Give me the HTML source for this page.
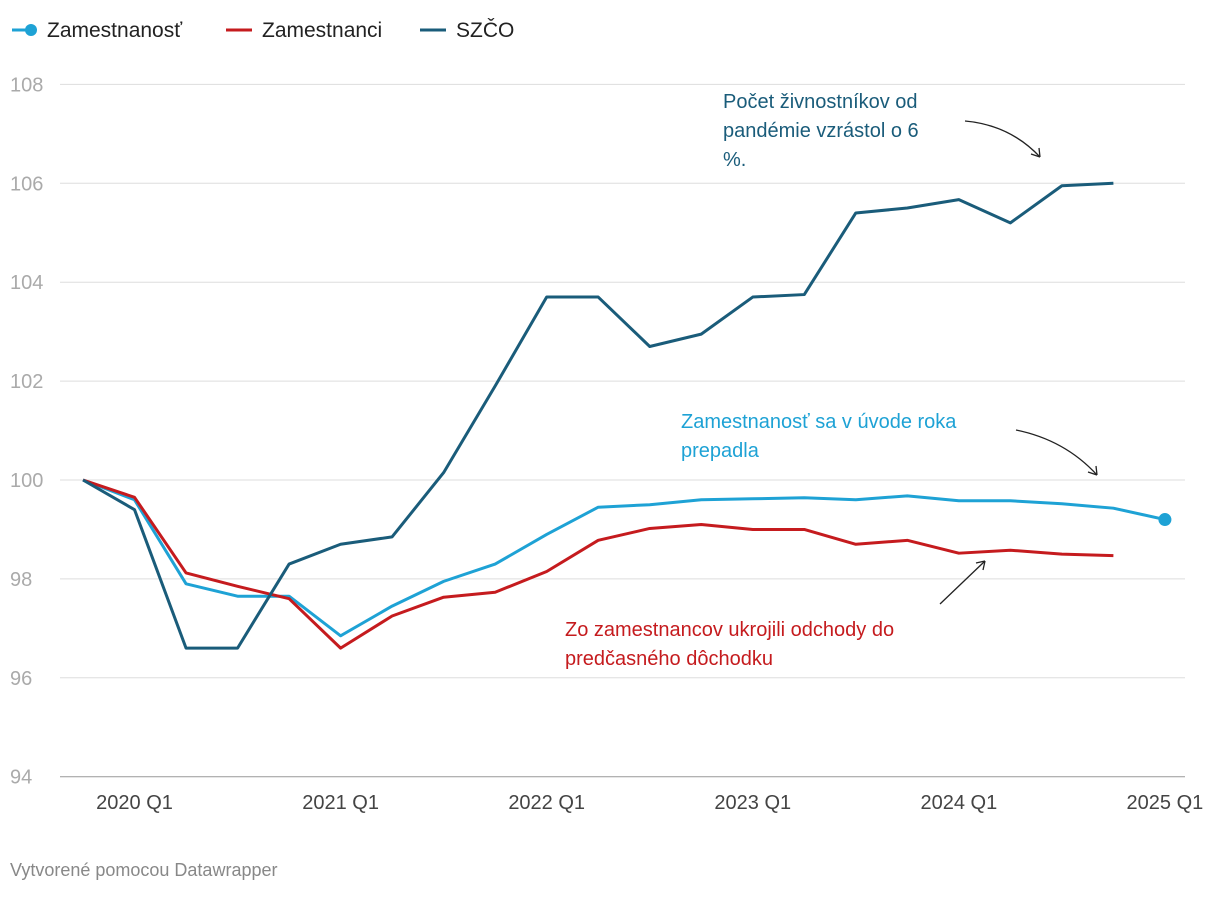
<!DOCTYPE html>
<html><head><meta charset="utf-8"><style>
body{margin:0;background:#fff;font-family:"Liberation Sans",sans-serif}
svg text{font-family:"Liberation Sans",sans-serif}
</style></head><body>
<svg width="1220" height="892" id="c">
<g>
 <g><line x1="12" y1="30" x2="36" y2="30" stroke="#1ea2d5" stroke-width="3"/><circle cx="31" cy="30" r="6" fill="#1ea2d5"/><text x="47" y="37" font-size="21" fill="#222">Zamestnanosť</text></g>
 <g><line x1="226" y1="30" x2="252" y2="30" stroke="#c51b1e" stroke-width="3"/><text x="262" y="37" font-size="21" fill="#222">Zamestnanci</text></g>
 <g><line x1="420" y1="30" x2="446" y2="30" stroke="#1a5c7a" stroke-width="3"/><text x="456" y="37" font-size="21" fill="#222">SZČO</text></g>
</g>
<g id="grid"></g>
<g id="series"></g>
<g font-size="20">
 <text x="723" y="108" fill="#1a5c7a"><tspan x="723">Počet živnostníkov od</tspan><tspan x="723" dy="29">pandémie vzrástol o 6</tspan><tspan x="723" dy="29">%.</tspan></text>
 <path d="M965,121 Q1010,125 1040,157" fill="none" stroke="#222" stroke-width="1.3"/><path d="M1040,157 l-9,-3 M1040,157 l-1,-9" stroke="#222" stroke-width="1.3"/>
 <text x="681" y="428" fill="#1ea2d5"><tspan x="681">Zamestnanosť sa v úvode roka</tspan><tspan x="681" dy="29">prepadla</tspan></text>
 <path d="M1016,430 Q1065,440 1097,475" fill="none" stroke="#222" stroke-width="1.3"/><path d="M1097,475 l-9,-3 M1097,475 l-1,-9" stroke="#222" stroke-width="1.3"/>
 <text x="565" y="636" fill="#c51b1e"><tspan x="565">Zo zamestnancov ukrojili odchody do</tspan><tspan x="565" dy="29">predčasného dôchodku</tspan></text>
 <path d="M940,604 L985,561" fill="none" stroke="#222" stroke-width="1.3"/><path d="M985,561 l-9,2 M985,561 l-2,9" stroke="#222" stroke-width="1.3"/>
</g>
<text x="10" y="876" font-size="18" fill="#888">Vytvorené pomocou Datawrapper</text>
</svg>
<script>
const yTicks=[94,96,98,100,102,104,106,108];
const xLabels=["2020 Q1","2021 Q1","2022 Q1","2023 Q1","2024 Q1","2025 Q1"];
const xLabelIdx=[1,5,9,13,17,21];
const szco=[100,99.4,96.6,96.6,98.3,98.7,98.85,100.15,101.9,103.7,103.7,102.7,102.95,103.7,103.75,105.4,105.5,105.67,105.2,105.95,106.0];
const zamestnanost=[100,99.6,97.9,97.65,97.65,96.85,97.45,97.95,98.3,98.9,99.45,99.5,99.6,99.62,99.64,99.6,99.68,99.58,99.58,99.52,99.43,99.2];
const zamestnanci=[100,99.65,98.12,97.85,97.6,96.6,97.25,97.63,97.73,98.15,98.78,99.02,99.1,99.0,99.0,98.7,98.78,98.52,98.58,98.5,98.47];
const NS="http://www.w3.org/2000/svg";
const x=i=>83+i*51.52, y=v=>480-(v-100)*49.45;
const grid=document.getElementById('grid'), ser=document.getElementById('series');
function mk(t,a,p){const e=document.createElementNS(NS,t);for(const k in a)e.setAttribute(k,a[k]);p.appendChild(e);return e;}
yTicks.forEach(v=>{
 const l=mk('line',{x1:60,x2:1185,y1:y(v),y2:y(v),stroke:v==94?'#999':'#ddd','stroke-width':1},grid);
 
 
 const t=mk('text',{x:10,y:y(v)+7,'font-size':20,fill:'#aaa'},grid);t.textContent=v;
 
 
});
xLabels.forEach((s,k)=>{
 const t=mk('text',{x:x(xLabelIdx[k]),y:809,'font-size':20,fill:'#444','text-anchor':'middle'},grid);t.textContent=s;
 
 
});
function line(d,c,n){
 const p=mk('polyline',{points:d.map((v,i)=>x(i)+','+y(v)).join(' '),fill:'none',stroke:c,'stroke-width':3,'stroke-linejoin':'round'},ser);
 
 
}
line(zamestnanost,'#1ea2d5','line-zamestnanost');
line(zamestnanci,'#c51b1e','line-zamestnanci');
line(szco,'#1a5c7a','line-szco');
const last=zamestnanost.length-1;
const dot=mk('circle',{cx:x(last),cy:y(zamestnanost[last]),r:6.5,fill:'#1ea2d5'},ser);


</script>
</body></html>
